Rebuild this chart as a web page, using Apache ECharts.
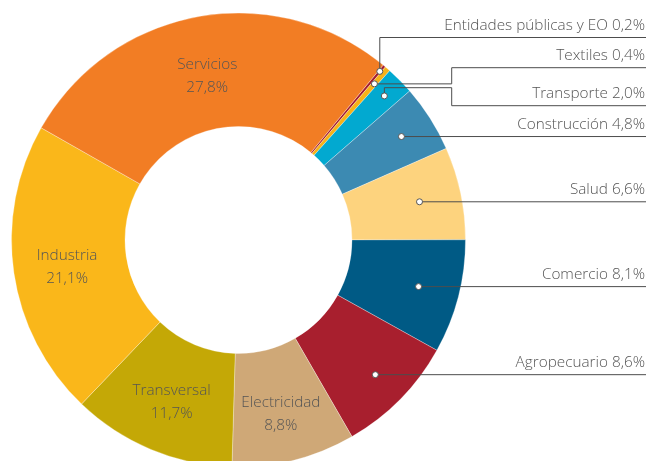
<!DOCTYPE html>
<html><head><meta charset="utf-8">
<script src="https://cdn.jsdelivr.net/npm/echarts@6/dist/echarts.min.js"></script>
<style>html,body{margin:0;padding:0;background:#fff}#c{width:649px;height:461px}</style>
</head><body><div id="c"></div>
<script>
// ---- data ----
const categories = ['Entidades públicas y EO','Textiles','Transporte','Construcción','Salud','Comercio','Agropecuario','Electricidad','Transversal','Industria','Servicios'];
const shares = [0.2, 0.4, 2.0, 4.8, 6.6, 8.1, 8.6, 8.8, 11.7, 21.1, 27.8];
const insideCategories = ['Electricidad','Transversal','Industria','Servicios'];

// ---- styling / layout ----
const colors = ['#A51E30','#F7B218','#02A9D0','#3C8AB2','#FDD37E','#005A85','#A81F2E','#CFA877','#C4A806','#FAB71A','#F27D24'];
const CX = 238.5, CY = 240, R_IN = 113.5, R_OUT = 227, START = 50.4;
const RIGHT_X = 646;
const callout = {
  'Entidades públicas y EO': {r: 220, route: 'up', lineY: 37.5},
  'Textiles': {r: 207, route: 'elbow', lineY: 67.7, elbowX: 451.7},
  'Transporte': {r: 205, route: 'elbow', lineY: 105.7, elbowX: 451.7, stepY: 87.7},
  'Construcción': {r: 193},
  'Salud': {r: 185},
  'Comercio': {r: 186},
  'Agropecuario': {r: 192}
};
const insideOffset = {'Servicios': [0, 7], 'Electricidad': [0, 6], 'Industria': [0, 2], 'Transversal': [0, 2]};
const TEXT = '#555555';
const FONT = '"Open Sans"';
const FS = 15.3;
const fmt = v => v.toFixed(1).replace('.', ',');

const total = shares.reduce((a, b) => a + b, 0);
let acc = 0;
const dots = [];
shares.forEach((v, i) => {
  const c = callout[categories[i]];
  if (c) dots.push([c.r, acc + v / 2]);
  acc += v;
});

// coloured ring with inside labels
const ringData = categories.map((name, i) => {
  const inside = insideCategories.includes(name);
  return {
    name, value: shares[i],
    itemStyle: {color: colors[i]},
    label: inside ? {show: true, offset: insideOffset[name] || [0, 0]} : {show: false}
  };
});
// invisible overlay ring carrying the callout labels and leader lines
const calloutData = categories.map((name, i) => {
  const inside = insideCategories.includes(name);
  return {
    name, value: shares[i],
    label: {show: !inside},
    labelLine: {show: !inside}
  };
});

const chart = echarts.init(document.getElementById('c'), null, {renderer: 'canvas'});
chart.setOption({
  animation: false,
  polar: {center: [CX, CY], radius: [0, R_OUT]},
  angleAxis: {type: 'value', min: 0, max: total, startAngle: START, clockwise: true, show: false},
  radiusAxis: {type: 'value', min: 0, max: R_OUT, show: false},
  series: [{
    type: 'pie',
    center: [CX, CY],
    radius: [R_IN, R_OUT],
    startAngle: START,
    clockwise: true,
    avoidLabelOverlap: false,
    silent: true,
    itemStyle: {borderColor: 'rgba(255,255,255,0.6)', borderWidth: 0.5},
    label: {
      position: 'inside', color: TEXT, fontFamily: FONT, fontSize: FS, fontWeight: 300, lineHeight: 23,
      formatter: p => p.name + '\n' + fmt(p.value) + '%'
    },
    labelLine: {show: false},
    data: ringData,
    z: 2
  }, {
    type: 'pie',
    center: [CX, CY],
    radius: [R_IN, R_OUT],
    startAngle: START,
    clockwise: true,
    avoidLabelOverlap: false,
    silent: true,
    itemStyle: {color: 'rgba(0,0,0,0)', borderWidth: 0},
    label: {
      position: 'outside', color: TEXT, fontFamily: FONT, fontSize: FS, fontWeight: 300,
      formatter: p => p.name + ' ' + fmt(p.value) + '%'
    },
    labelLine: {show: true, lineStyle: {color: '#4d4d4d', width: 1}},
    labelLayout: function (p) {
      const cfg = callout[categories[p.dataIndex]];
      if (!cfg || !p.labelLinePoints) return {};
      const p0 = p.labelLinePoints[0];
      const dx = p0[0] - CX, dy = p0[1] - CY, len = Math.hypot(dx, dy);
      const d = [CX + dx / len * cfg.r, CY + dy / len * cfg.r];
      let pts, lineY;
      if (cfg.route === 'up') {
        lineY = cfg.lineY;
        pts = [d, [d[0], lineY], [RIGHT_X, lineY]];
      } else if (cfg.route === 'elbow') {
        const sy = cfg.stepY != null ? cfg.stepY : d[1];
        lineY = cfg.lineY;
        pts = [d, [d[0], sy], [cfg.elbowX, sy], [cfg.elbowX, lineY], [RIGHT_X, lineY]];
      } else {
        lineY = d[1];
        pts = [d, [RIGHT_X, lineY]];
      }
      return {x: RIGHT_X - 1, y: lineY - 12, align: 'right', verticalAlign: 'middle', labelLinePoints: pts};
    },
    data: calloutData,
    z: 3
  }, {
    type: 'scatter',
    coordinateSystem: 'polar',
    silent: true,
    symbol: 'circle',
    symbolSize: 6,
    itemStyle: {color: '#ffffff', borderColor: '#555555', borderWidth: 1, opacity: 1},
    data: dots,
    z: 5
  }]
});
</script>
</body></html>
